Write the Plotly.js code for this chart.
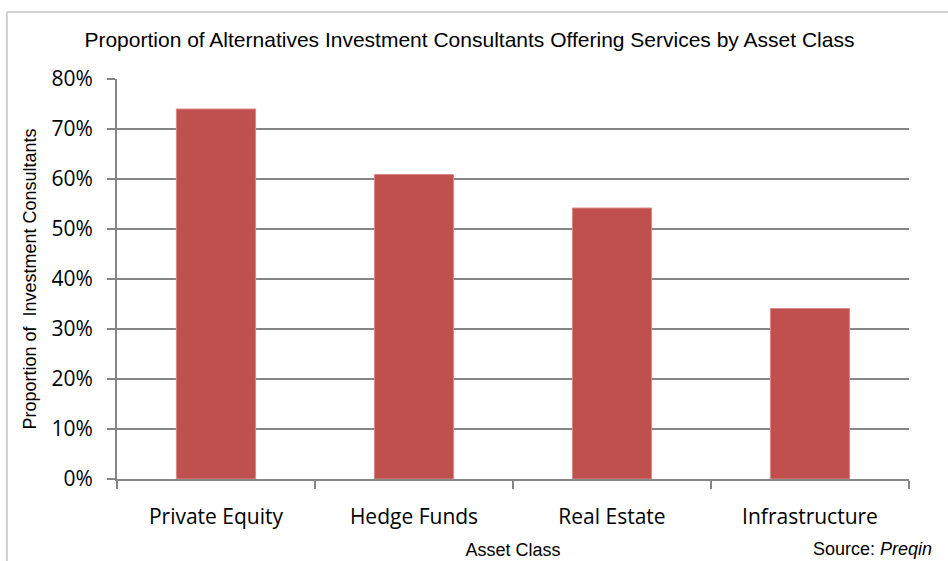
<!DOCTYPE html>
<html>
<head>
<meta charset="utf-8">
<script src="https://cdn.plot.ly/plotly-3.0.1.min.js"></script>
<style>html,body{margin:0;padding:0;background:#fff;}#chart{width:948px;height:561px;}</style>
</head>
<body>
<div id="chart"></div>
<script>
const categories = ["Private Equity", "Hedge Funds", "Real Estate", "Infrastructure"];
const values = [74, 60.9, 54.2, 34.1];
const yTickVals = [0, 10, 20, 30, 40, 50, 60, 70, 80];
const yTickText = ["0%", "10%", "20%", "30%", "40%", "50%", "60%", "70%", "80%"];

const trace = {
  type: "bar",
  x: categories,
  y: values,
  marker: {color: "#C0504D", line: {color: "#D98A88", width: 1}},
  hoverinfo: "x+y"
};

const layout = {
  width: 948, height: 561,
  margin: {l: 117, r: 39, t: 79, b: 82},
  paper_bgcolor: "#ffffff",
  plot_bgcolor: "#ffffff",
  bargap: 0.6,
  showlegend: false,
  title: {
    text: "Proportion of Alternatives Investment Consultants Offering Services by Asset Class",
    font: {family: "Liberation Sans, Arial, sans-serif", size: 21, color: "#000"},
    x: 0.445, xref: "paper", xanchor: "center",
    y: 43, yref: "container", yanchor: "middle"
  },
  xaxis: {
    type: "category",
    tickson: "boundaries",
    ticks: "outside", ticklen: 8, tickwidth: 2, tickcolor: "#868686",
    showline: true, linecolor: "#868686", linewidth: 2,
    showgrid: false,
    tickfont: {family: "Open Sans, sans-serif", size: 21, color: "#000"},
    ticklabelstandoff: 18,
    title: {text: "Asset Class", font: {family: "Liberation Sans, Arial, sans-serif", size: 18, color: "#000"}, standoff: 14},
    fixedrange: true
  },
  yaxis: {
    range: [0, 80],
    tickvals: yTickVals, ticktext: yTickText,
    ticks: "outside", ticklen: 8, tickwidth: 2, tickcolor: "#868686",
    showline: true, linecolor: "#868686", linewidth: 2,
    showgrid: true, gridcolor: "#868686", gridwidth: 2,
    zeroline: false,
    tickfont: {family: "Open Sans, sans-serif", size: 21, color: "#000"},
    ticklabelstandoff: 10,
    title: {text: "Proportion of  Investment Consultants", font: {family: "Liberation Sans, Arial, sans-serif", size: 18, color: "#000"}, standoff: 10},
    fixedrange: true
  },
  shapes: [
    {type: "line", xref: "paper", yref: "paper", x0: -0.139, x1: 1.06, y0: 1.1675, y1: 1.1675, line: {color: "#D0D0D0", width: 2}},
    {type: "line", xref: "paper", yref: "paper", x0: -0.139, x1: -0.139, y0: 1.1675, y1: -0.22, line: {color: "#D0D0D0", width: 2}}
  ],
  annotations: [
    {text: "Source: <i>Preqin</i>", xref: "paper", yref: "paper", x: (811 - 117) / 792, y: -(549 - 479) / 400,
     xanchor: "left", yanchor: "middle", showarrow: false,
     font: {family: "Liberation Sans, Arial, sans-serif", size: 18, color: "#000"}}
  ]
};

Plotly.newPlot("chart", [trace], layout, {displayModeBar: false, staticPlot: true});
</script>
</body>
</html>
